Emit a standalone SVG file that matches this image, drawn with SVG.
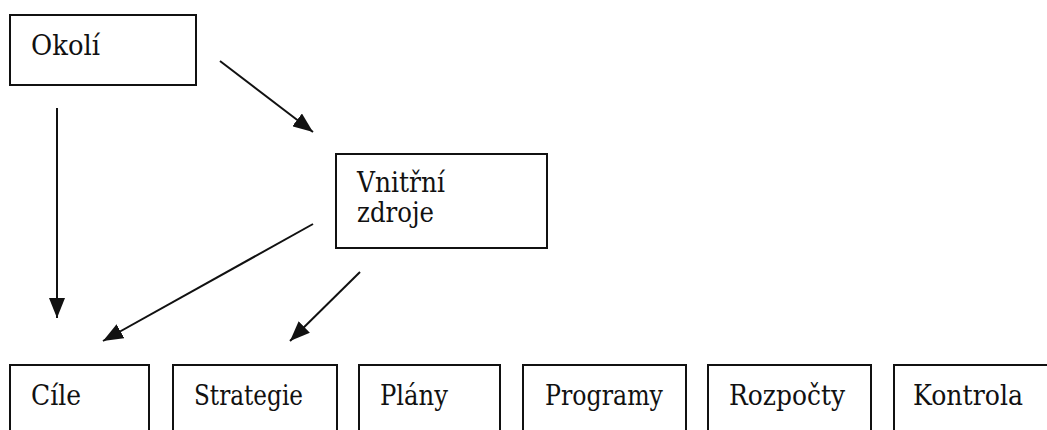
<svg xmlns="http://www.w3.org/2000/svg" width="1047" height="430" viewBox="0 0 1047 430">
<style>
.box{fill:#fff;stroke:#111;stroke-width:2}
.t{font-family:'DejaVu Serif','Liberation Serif','Times New Roman',serif;font-size:27px;fill:#111}
.c{stroke:#111;stroke-width:2;fill:none;marker-end:url(#ah)}
</style>
<defs>
<marker id="ah" markerUnits="userSpaceOnUse" markerWidth="20" markerHeight="16" viewBox="0 0 20 16" refX="20" refY="8" orient="auto">
<path d="M0,0 L20,8 L0,16 Z" fill="#111"/>
</marker>
</defs>
<rect width="1047" height="430" fill="#fff"/>
<g id="connectors">
<line class="c" x1="220" y1="61" x2="313" y2="132"/>
<line class="c" x1="57" y1="108" x2="57" y2="318"/>
<line class="c" x1="313" y1="224" x2="103" y2="341"/>
<line class="c" x1="360" y1="272" x2="290" y2="341"/>
</g>
<g id="okoli"><rect class="box" x="10" y="15" width="186" height="70"/><text class="t" x="31" y="55" textLength="69" lengthAdjust="spacingAndGlyphs">Okolí</text></g>
<g id="vnitrni"><rect class="box" x="336" y="154" width="211" height="94"/><text class="t" x="357" y="192" textLength="88" lengthAdjust="spacingAndGlyphs">Vnitřní</text><text class="t" x="357" y="222" textLength="77" lengthAdjust="spacingAndGlyphs">zdroje</text></g>
<g id="cile"><rect class="box" x="10" y="365" width="139" height="80"/><text class="t" x="31" y="405" textLength="50" lengthAdjust="spacingAndGlyphs">Cíle</text></g>
<g id="strategie"><rect class="box" x="173" y="365" width="164" height="80"/><text class="t" x="194" y="405" textLength="109" lengthAdjust="spacingAndGlyphs">Strategie</text></g>
<g id="plany"><rect class="box" x="359" y="365" width="141" height="80"/><text class="t" x="380" y="405" textLength="68" lengthAdjust="spacingAndGlyphs">Plány</text></g>
<g id="programy"><rect class="box" x="523" y="365" width="163" height="80"/><text class="t" x="545" y="405" textLength="118" lengthAdjust="spacingAndGlyphs">Programy</text></g>
<g id="rozpocty"><rect class="box" x="708" y="365" width="163" height="80"/><text class="t" x="729" y="405" textLength="116" lengthAdjust="spacingAndGlyphs">Rozpočty</text></g>
<g id="kontrola"><rect class="box" x="894" y="365" width="170" height="80"/><text class="t" x="913" y="405" textLength="110" lengthAdjust="spacingAndGlyphs">Kontrola</text></g>
</svg>
